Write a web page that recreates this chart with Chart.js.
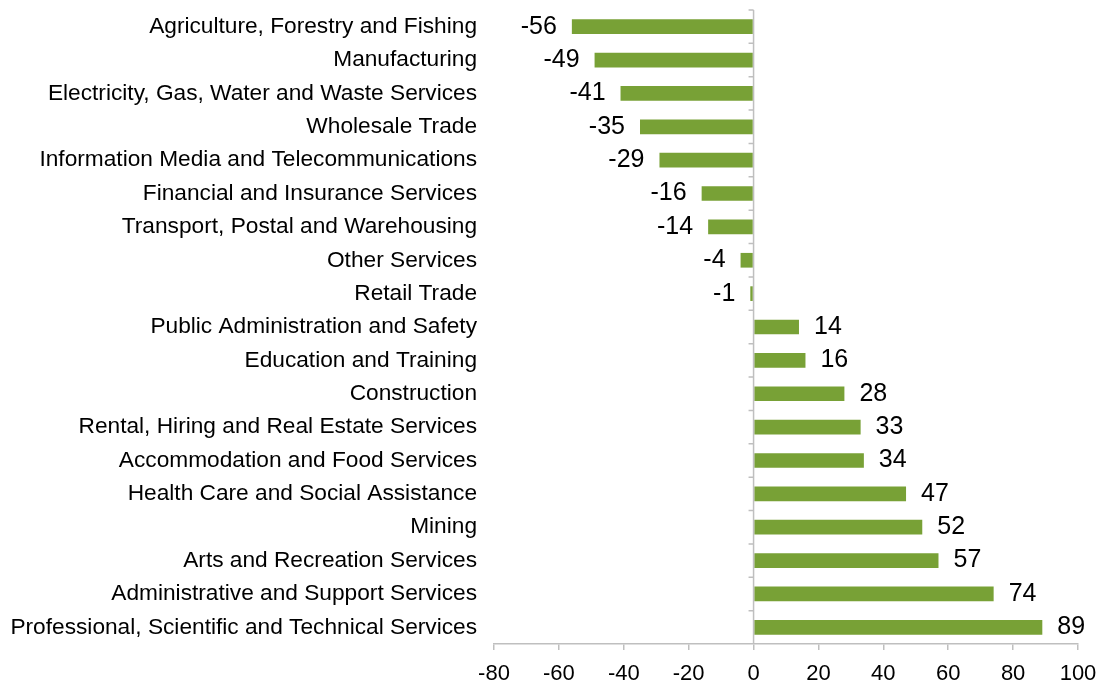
<!DOCTYPE html>
<html>
<head>
<meta charset="utf-8">
<script src="https://cdn.jsdelivr.net/npm/chart.js@4"></script>
<style>
  html, body { margin: 0; padding: 0; background: #fff; }
  #wrap { width: 1105px; height: 686px; }
</style>
</head>
<body>
<div id="wrap"><canvas id="industryChart" width="1105" height="686"></canvas></div>
<script>
const industries = [
    'Agriculture, Forestry and Fishing',
    'Manufacturing',
    'Electricity, Gas, Water and Waste Services',
    'Wholesale Trade',
    'Information Media and Telecommunications',
    'Financial and Insurance Services',
    'Transport, Postal and Warehousing',
    'Other Services',
    'Retail Trade',
    'Public Administration and Safety',
    'Education and Training',
    'Construction',
    'Rental, Hiring and Real Estate Services',
    'Accommodation and Food Services',
    'Health Care and Social Assistance',
    'Mining',
    'Arts and Recreation Services',
    'Administrative and Support Services',
    'Professional, Scientific and Technical Services'
];
const changes = [-56, -49, -41, -35, -29, -16, -14, -4, -1, 14, 16, 28, 33, 34, 47, 52, 57, 74, 89];
const xTicks = [-80, -60, -40, -20, 0, 20, 40, 60, 80, 100];

const axisGrey = '#bfbfbf';
const fontFamily = 'Arial, "Liberation Sans", sans-serif';

// zero line with category tick marks, drawn from the scales
const zeroAxis = {
    id: 'zeroAxis',
    afterDatasetsDraw(chart) {
        const c = chart.ctx;
        const x = chart.scales.x.getPixelForValue(0);
        const y = chart.scales.y;
        const top = chart.chartArea.top, bottom = chart.chartArea.bottom;
        c.save();
        c.strokeStyle = axisGrey;
        c.lineWidth = 1.5;
        c.beginPath();
        c.moveTo(x, top);
        c.lineTo(x, bottom);
        const step = (bottom - top) / industries.length;
        for (let i = 0; i < industries.length; i++) {
            const yy = y.getPixelForValue(i) - step / 2;
            c.moveTo(x - 5, yy);
            c.lineTo(x, yy);
        }
        c.stroke();
        c.restore();
    }
};

const barLabels = {
    id: 'barLabels',
    afterDatasetsDraw(chart) {
        const c = chart.ctx;
        const meta = chart.getDatasetMeta(0);
        c.save();
        c.font = '25px ' + fontFamily;
        c.fillStyle = '#000';
        c.textBaseline = 'middle';
        meta.data.forEach((bar, i) => {
            const v = changes[i];
            if (v < 0) {
                c.textAlign = 'right';
                c.fillText(String(v), bar.x - 15, bar.y);
            } else {
                c.textAlign = 'left';
                c.fillText(String(v), bar.x + 15, bar.y);
            }
        });
        c.restore();
    }
};

const ctx = document.getElementById('industryChart').getContext('2d');
new Chart(ctx, {
    type: 'bar',
    data: {
        labels: industries,
        datasets: [{
            data: changes,
            backgroundColor: '#78a136',
            borderWidth: 0,
            categoryPercentage: 1,
            barPercentage: 0.44
        }]
    },
    options: {
        indexAxis: 'y',
        responsive: false,
        animation: false,
        layout: { padding: { top: 10, right: 27, left: 8, bottom: 2 } },
        plugins: {
            legend: { display: false },
            tooltip: { enabled: false }
        },
        scales: {
            x: {
                min: -80,
                max: 100,
                afterBuildTicks: (axis) => { axis.ticks = xTicks.map(v => ({ value: v })); },
                border: { display: true, color: axisGrey, width: 1.5 },
                grid: { drawOnChartArea: false, drawTicks: true, tickLength: 6, color: axisGrey, lineWidth: 1.5 },
                ticks: { color: '#000', font: { size: 22, family: fontFamily }, padding: 11, maxRotation: 0 },
                afterFit: (scale) => {
                    scale.height = 40;
                    scale.paddingLeft = 0;
                    scale.paddingRight = 0;
                }
            },
            y: {
                border: { display: false },
                grid: { display: false, drawTicks: false },
                ticks: { color: '#000', font: { size: 22.7, family: fontFamily }, padding: 17, autoSkip: false },
                afterFit: (scale) => {
                    scale.width = 486;
                    scale.paddingTop = 0;
                    scale.paddingBottom = 0;
                }
            }
        }
    },
    plugins: [zeroAxis, barLabels]
});
</script>
</body>
</html>
